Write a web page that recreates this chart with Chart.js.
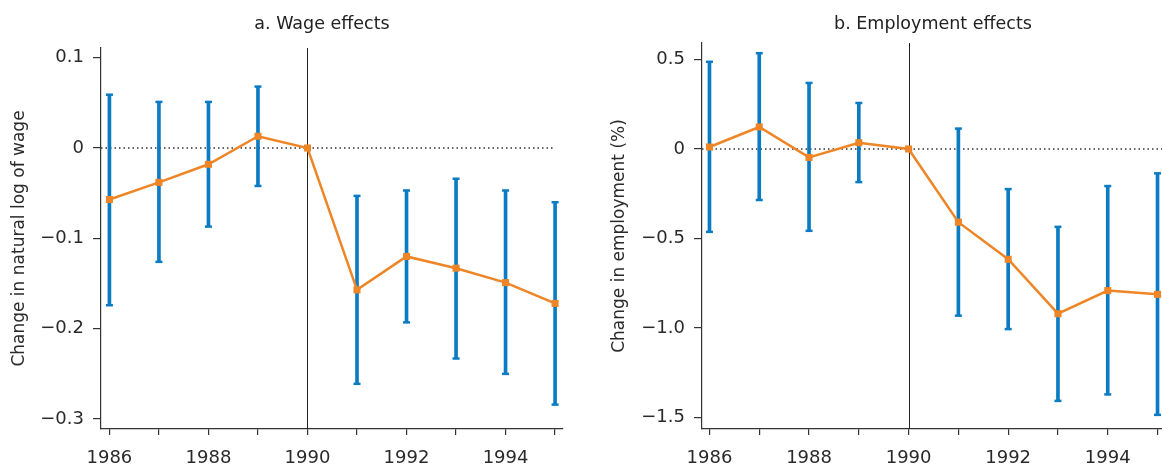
<!DOCTYPE html>
<html>
<head>
<meta charset="utf-8">
<script src="https://cdn.jsdelivr.net/npm/chart.js@4.4.1/dist/chart.umd.min.js"></script>
<style>
  html, body { margin: 0; padding: 0; background: #fff; }
  #wrap { position: relative; width: 1162px; height: 467px; overflow: hidden; }
  .panel { position: absolute; top: 0; height: 467px; }
  .ptitle {
    position: absolute; top: 14px; font-family: "DejaVu Sans"; font-size: 17.5px;
    line-height: 18px; color: #222; white-space: nowrap; transform: translateX(-50%);
  }
</style>
</head>
<body>
<div id="wrap">
  <div class="panel" style="left:0;width:600px"><canvas id="wageChart" width="600" height="467"></canvas></div>
  <div class="panel" style="left:600px;width:580px"><canvas id="empChart" width="580" height="467"></canvas></div>
  <div class="ptitle" style="left:322px">a. Wage effects</div>
  <div class="ptitle" style="left:933px">b. Employment effects</div>
</div>
<script>
// Years and labels
const years = [1986, 1987, 1988, 1989, 1990, 1991, 1992, 1993, 1994, 1995];
const labeledYears = [1986, 1988, 1990, 1992, 1994];
const eventYear = 1990;

// Panel a: wage effects
const wageEst  = [-0.057, -0.038, -0.018, 0.013, 0, -0.157, -0.120, -0.133, -0.149, -0.172];
const wageLow  = [-0.174, -0.126, -0.087, -0.042, null, -0.261, -0.193, -0.233, -0.250, -0.284];
const wageHigh = [0.059, 0.051, 0.051, 0.068, null, -0.053, -0.047, -0.034, -0.047, -0.060];
const wageTicks = [0.1, 0, -0.1, -0.2, -0.3];
const wageTickLabels = ['0.1', '0', '\u22120.1', '\u22120.2', '\u22120.3'];

// Panel b: employment effects
const empEst  = [0.011, 0.123, -0.047, 0.035, 0, -0.409, -0.616, -0.920, -0.791, -0.812];
const empLow  = [-0.463, -0.285, -0.457, -0.185, null, -0.931, -1.006, -1.407, -1.371, -1.485];
const empHigh = [0.487, 0.535, 0.369, 0.257, null, 0.114, -0.224, -0.435, -0.207, -0.136];
const empTicks = [0.5, 0, -0.5, -1.0, -1.5];
const empTickLabels = ['0.5', '0', '\u22120.5', '\u22121.0', '\u22121.5'];

const BLUE = '#0b7cc3';
const ORANGE = '#ee8526';
const AXIS = '#333';
const TEXT = '#2a2a2a';
const TICK_FONT = { family: 'DejaVu Sans', size: 18 };

// vertical reference line at the event year
const eventLine = {
    id: 'eventLine',
    beforeDatasetsDraw(chart) {
        const { ctx, chartArea, scales } = chart;
        const x = Math.round(scales.x.getPixelForValue(eventYear)) + 0.5;
        ctx.save();
        ctx.strokeStyle = '#222';
        ctx.lineWidth = 1;
        ctx.beginPath();
        ctx.moveTo(x, chartArea.top);
        ctx.lineTo(x, chartArea.bottom);
        ctx.stroke();
        ctx.restore();
    }
};

function makePanel(id, p) {
    const ciYears = years.filter((y, i) => p.low[i] !== null);
    const bars = ciYears.map(y => {
        const i = years.indexOf(y);
        return { x: y, y: [p.low[i], p.high[i]] };
    });
    const caps = [];
    ciYears.forEach(y => {
        const i = years.indexOf(y);
        caps.push({ x: y, y: p.low[i] }, { x: y, y: p.high[i] });
    });

    return new Chart(document.getElementById(id), {
        type: 'line',
        data: {
            datasets: [
                {
                    type: 'line',
                    data: years.map((y, i) => ({ x: y, y: p.est[i] })),
                    borderColor: ORANGE,
                    borderWidth: 2.5,
                    pointStyle: 'rect',
                    pointRadius: 5,
                    pointBackgroundColor: ORANGE,
                    pointBorderWidth: 0,
                    order: 0
                },
                {
                    type: 'scatter',
                    data: caps,
                    pointStyle: 'line',
                    pointRadius: 3.5,
                    pointBorderColor: BLUE,
                    pointBorderWidth: 2.5,
                    order: 1
                },
                {
                    type: 'bar',
                    data: bars,
                    backgroundColor: BLUE,
                    barThickness: 3,
                    grouped: false,
                    order: 2
                },
                {
                    type: 'line',
                    data: [{ x: p.xMin, y: 0 }, { x: p.zeroEnd, y: 0 }],
                    borderColor: '#333',
                    borderWidth: 1.3,
                    borderDash: [1.5, 3],
                    pointRadius: 0,
                    order: 3
                }
            ]
        },
        options: {
            responsive: false,
            animation: false,
            layout: { padding: { top: p.padTop, right: p.padRight, left: 0, bottom: 0 } },
            plugins: { legend: { display: false }, tooltip: { enabled: false } },
            scales: {
                x: {
                    type: 'linear',
                    offset: false,
                    min: p.xMin,
                    max: p.xMax,
                    afterBuildTicks: s => { s.ticks = years.map(v => ({ value: v })); },
                    afterFit: s => { s.height = 38; },
                    ticks: {
                        callback: v => labeledYears.includes(v) ? String(v) : '',
                        font: TICK_FONT,
                        color: TEXT,
                        padding: 13,
                        maxRotation: 0,
                        autoSkip: false
                    },
                    grid: { offset: false, drawOnChartArea: false, drawTicks: true, tickLength: 6, color: AXIS, lineWidth: 1.2 },
                    border: { display: true, color: AXIS, width: 1.2 }
                },
                y: {
                    type: 'linear',
                    min: p.yMin,
                    max: p.yMax,
                    afterBuildTicks: s => { s.ticks = p.ticks.map(v => ({ value: v })); },
                    afterFit: s => { s.width = p.axisWidth; },
                    ticks: {
                        callback: v => p.tickLabels[p.ticks.indexOf(v)],
                        font: TICK_FONT,
                        color: TEXT,
                        padding: 9
                    },
                    grid: { drawOnChartArea: false, drawTicks: true, tickLength: 8, color: AXIS, lineWidth: 1.2 },
                    border: { display: true, color: AXIS, width: 1.2 },
                    title: {
                        display: true,
                        text: p.yTitle,
                        color: TEXT,
                        font: { family: 'DejaVu Sans', size: 17 },
                        padding: { top: 9, bottom: 0 }
                    }
                }
            }
        },
        plugins: [eventLine]
    });
}

makePanel('wageChart', {
    est: wageEst, low: wageLow, high: wageHigh,
    ticks: wageTicks, tickLabels: wageTickLabels,
    yMin: -0.311, yMax: 0.1107,
    xMin: 1985.83, xMax: 1995.16, zeroEnd: 1995,
    axisWidth: 101, padRight: 37, padTop: 48,
    yTitle: 'Change in natural log of wage'
});

makePanel('empChart', {
    est: empEst, low: empLow, high: empHigh,
    ticks: empTicks, tickLabels: empTickLabels,
    yMin: -1.564, yMax: 0.592,
    xMin: 1985.85, xMax: 1995.09, zeroEnd: 1995.09,
    axisWidth: 102, padRight: 18, padTop: 43,
    yTitle: 'Change in employment (%)'
});
</script>
</body>
</html>
